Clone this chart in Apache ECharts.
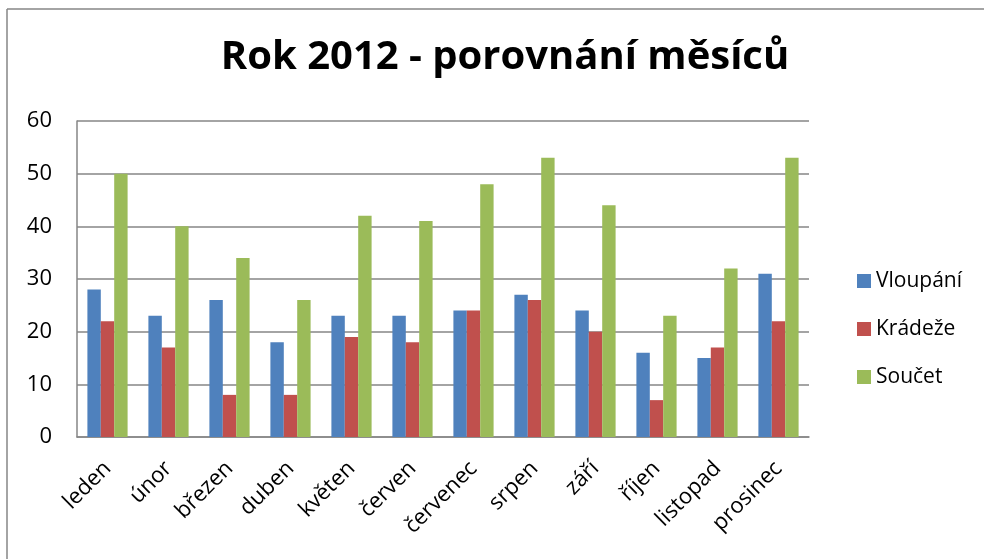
<!DOCTYPE html>
<html>
<head>
<meta charset="utf-8">
<script src="https://cdn.jsdelivr.net/npm/echarts@6/dist/echarts.min.js"></script>
<style>
  html, body { margin: 0; padding: 0; background: #fff; }
  #chart { width: 984px; height: 559px; }
</style>
</head>
<body>
<div id="chart"></div>
<script>
const months = ['leden', 'únor', 'březen', 'duben', 'květen', 'červen', 'červenec', 'srpen', 'září', 'říjen', 'listopad', 'prosinec'];
const vloupani = [28, 23, 26, 18, 23, 23, 24, 27, 24, 16, 15, 31];
const kradeze = [22, 17, 8, 8, 19, 18, 24, 26, 20, 7, 17, 22];
const soucet = [50, 40, 34, 26, 42, 41, 48, 53, 44, 23, 32, 53];

const FONT = '"Open Sans", "Noto Sans", sans-serif';

const mkSeries = (name, data, color) => {
    return {
        name: name,
        type: 'bar',
        data: data,
        barWidth: 13.4,
        barGap: '0%',
        itemStyle: { color: color },
    };
};

const chart = echarts.init(document.getElementById('chart'));
chart.setOption({
    animation: false,
    title: {
        text: 'Rok 2012 - porovnání měsíců',
        left: 500,
        textAlign: 'center',
        top: 33,
        textStyle: { fontFamily: FONT, fontSize: 40, fontWeight: 'bold', color: '#000' },
    },
    legend: {
        orient: 'vertical',
        left: 852,
        top: 264,
        itemWidth: 14,
        itemHeight: 14,
        itemGap: 24,
        icon: 'rect',
        textStyle: { fontFamily: FONT, fontSize: 21, color: '#000', lineHeight: 24 },
        data: ['Vloupání', 'Krádeže', 'Součet'],
    },
    grid: { left: 77, right: 175, top: 121, bottom: 122, containLabel: false },
    xAxis: {
        type: 'category',
        data: months,
        axisLine: { lineStyle: { color: '#868686', width: 1.5 } },
        axisTick: { show: false },
        axisLabel: {
            rotate: 45,
            margin: 28,
            fontFamily: FONT,
            fontSize: 22,
            color: '#000',
        },
    },
    yAxis: {
        type: 'value',
        min: 0,
        max: 60,
        interval: 10,
        axisLine: { show: true, lineStyle: { color: '#868686', width: 1.5 } },
        axisTick: { show: false },
        splitLine: { lineStyle: { color: '#868686', width: 1.5 } },
        axisLabel: { margin: 25, fontFamily: FONT, fontSize: 22, color: '#000' },
    },
    graphic: [
        { type: 'line', shape: { x1: 7, y1: 9, x2: 984, y2: 9 }, style: { stroke: '#868686', lineWidth: 1.5 } },
        { type: 'line', shape: { x1: 7, y1: 9, x2: 7, y2: 559 }, style: { stroke: '#868686', lineWidth: 1.5 } },
    ],
    series: [
        mkSeries('Vloupání', vloupani, '#4F81BD'),
        mkSeries('Krádeže', kradeze, '#C0504D'),
        mkSeries('Součet', soucet, '#9BBB59'),
    ],
});
</script>
</body>
</html>
